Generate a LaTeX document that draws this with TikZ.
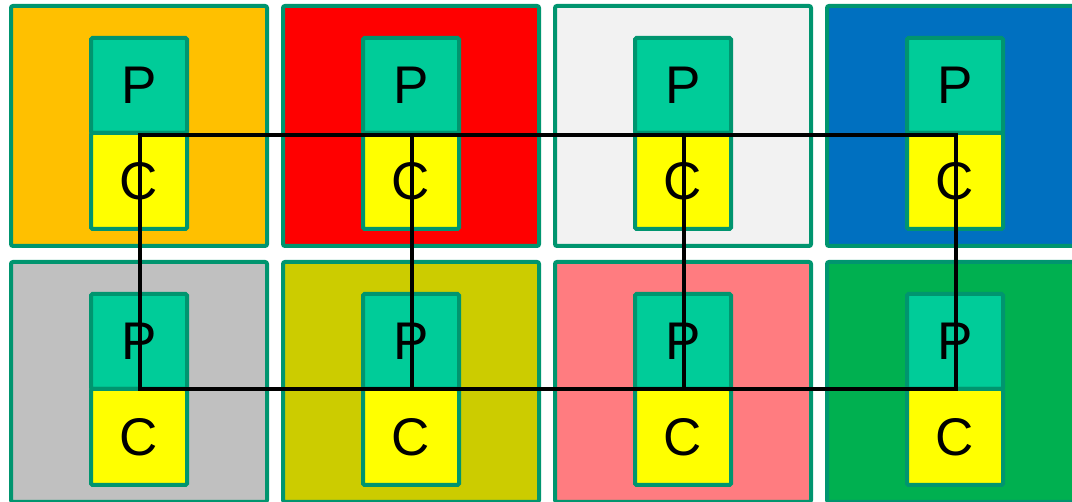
\documentclass[tikz,border=0pt]{standalone}
\usepackage{fontspec}
\setmainfont{Liberation Sans}
\definecolor{bord}{HTML}{00956F}
\definecolor{pfill}{HTML}{00CC99}
\definecolor{cfill}{HTML}{FFFF00}
\definecolor{c1}{HTML}{FFC000}
\definecolor{c2}{HTML}{FF0000}
\definecolor{c3}{HTML}{F2F2F2}
\definecolor{c4}{HTML}{0070C0}
\definecolor{c5}{HTML}{C0C0C0}
\definecolor{c6}{HTML}{CCCC00}
\definecolor{c7}{HTML}{FF7C80}
\definecolor{c8}{HTML}{00B050}
\begin{document}
\begin{tikzpicture}[x=1pt,y=-1pt,
  outerbox/.style={draw=bord,line width=4pt,rounded corners=2pt,inner sep=0,outer sep=0,minimum width=256pt,minimum height=240pt},
  pbox/.style={draw=bord,fill=pfill,line width=4pt,rounded corners=1.5pt,inner sep=0,outer sep=0,minimum width=96pt,minimum height=95pt,font=\fontsize{53}{60}\selectfont},
  cbox/.style={pbox,fill=cfill,minimum height=96pt},
  link/.style={draw=black,line width=4.5pt,line join=miter}]
\useasboundingbox (0,0) rectangle (1072,502);
\begin{scope}
\clip (0,0) rectangle (1072,502);
\foreach \i/\j/\c in {0/0/c1,1/0/c2,2/0/c3,3/0/c4,0/1/c5,1/1/c6,2/1/c7,3/1/c8}{
  \pgfmathsetmacro{\xo}{11+272*\i}
  \pgfmathsetmacro{\yo}{6+256*\j}
  \node[outerbox,fill=\c] (O-\i-\j) at (\xo+128,\yo+120) {};
  \node[pbox] (P-\i-\j) at (\xo+128,\yo+79.5) {P};
  \node[cbox] (C-\i-\j) at (\xo+128,\yo+175) {C};
}
\end{scope}
\foreach \i in {0,1,2,3}{
  \coordinate (T\i) at ([xshift=1pt,yshift=-2pt]C-\i-0.north);
  \coordinate (B\i) at ([xshift=1pt]P-\i-1.south);
}
\draw[link] (T0) -- (T3) -- (B3) -- (B0) -- cycle;
\draw[link] (T1) -- (B1);
\draw[link] (T2) -- (B2);
\end{tikzpicture}
\end{document}
